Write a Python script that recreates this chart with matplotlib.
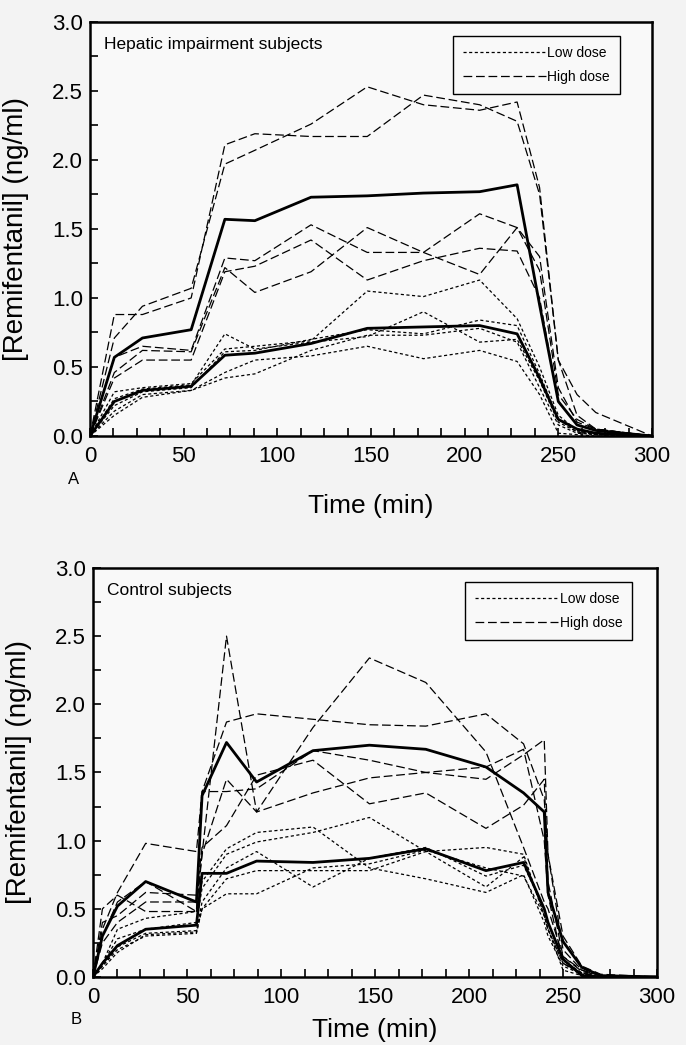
import matplotlib
matplotlib.use("Agg")
import matplotlib.pyplot as plt
from matplotlib.lines import Line2D
from matplotlib.ticker import MultipleLocator

plt.rcParams['font.family'] = ['Liberation Sans', 'DejaVu Sans']

# Panel A - hepatic impairment subjects
tA = [0, 13, 28, 54, 72, 88, 118, 148, 178, 208, 228, 240, 250, 260, 270, 300]
meanA_high = [0, 0.57, 0.71, 0.77, 1.57, 1.56, 1.73, 1.74, 1.76, 1.77, 1.82, 0.95, 0.25, 0.08, 0.04, 0]
meanA_low = [0, 0.25, 0.33, 0.36, 0.585, 0.60, 0.67, 0.78, 0.79, 0.80, 0.74, 0.42, 0.12, 0.05, 0.02, 0]
highA = [
    [0, 0.88, 0.88, 1.00, 2.11, 2.19, 2.17, 2.17, 2.47, 2.40, 2.28, 1.75, 0.55, 0.30, 0.17, 0],
    [0, 0.71, 0.94, 1.07, 1.97, 2.07, 2.26, 2.53, 2.40, 2.36, 2.42, 1.80, 0.55, 0.15, 0.05, 0],
    [0, 0.57, 0.65, 0.62, 1.29, 1.27, 1.53, 1.33, 1.33, 1.61, 1.51, 1.20, 0.30, 0.12, 0.05, 0],
    [0, 0.46, 0.62, 0.61, 1.22, 1.04, 1.19, 1.51, 1.33, 1.17, 1.51, 1.30, 0.35, 0.10, 0.05, 0],
    [0, 0.42, 0.55, 0.55, 1.19, 1.23, 1.42, 1.13, 1.27, 1.36, 1.34, 1.00, 0.25, 0.08, 0.04, 0],
]
lowA = [
    [0, 0.32, 0.35, 0.38, 0.63, 0.65, 0.69, 1.05, 1.01, 1.13, 0.85, 0.50, 0.15, 0.04, 0.01, 0],
    [0, 0.27, 0.34, 0.37, 0.74, 0.63, 0.68, 0.72, 0.90, 0.68, 0.70, 0.40, 0.10, 0.03, 0.01, 0],
    [0, 0.22, 0.32, 0.35, 0.61, 0.62, 0.70, 0.77, 0.74, 0.84, 0.80, 0.45, 0.12, 0.03, 0.01, 0],
    [0, 0.15, 0.28, 0.33, 0.46, 0.55, 0.58, 0.65, 0.56, 0.62, 0.54, 0.30, 0.02, 0.01, 0, 0],
    [0, 0.18, 0.30, 0.33, 0.42, 0.45, 0.62, 0.73, 0.73, 0.78, 0.68, 0.35, 0.08, 0.02, 0.01, 0],
]

# Panel B - control subjects
tB = [0, 5, 13, 28, 55, 58, 71, 87, 117, 147, 177, 209, 229, 240, 242, 250, 260, 270, 300]
meanB_high = [0, 0.30, 0.52, 0.70, 0.55, 1.33, 1.72, 1.43, 1.66, 1.70, 1.67, 1.54, 1.35, 1.21, 0.62, 0.26, 0.07, 0.01, 0]
meanB_low = [0, 0.10, 0.23, 0.35, 0.38, 0.76, 0.76, 0.85, 0.84, 0.87, 0.94, 0.78, 0.84, 0.50, 0.40, 0.13, 0.01, 0, 0]
highB = [
    [0, 0.30, 0.55, 0.70, 0.48, 0.90, 2.50, 1.21, 1.83, 2.34, 2.16, 1.65, 0.95, 0.55, 0.50, 0.15, 0.05, 0.01, 0],
    [0, 0.35, 0.62, 0.98, 0.92, 1.36, 1.87, 1.93, 1.89, 1.85, 1.84, 1.93, 1.71, 1.30, 0.90, 0.30, 0.08, 0.02, 0],
    [0, 0.50, 0.60, 0.48, 0.48, 1.36, 1.36, 1.38, 1.66, 1.59, 1.50, 1.45, 1.63, 1.74, 0.90, 0.20, 0.05, 0.01, 0],
    [0, 0.40, 0.45, 0.62, 0.60, 0.95, 1.11, 1.48, 1.59, 1.27, 1.35, 1.09, 1.26, 1.45, 0.70, 0.15, 0.04, 0.01, 0],
    [0, 0.25, 0.40, 0.55, 0.55, 0.90, 1.45, 1.21, 1.35, 1.46, 1.50, 1.54, 1.67, 1.00, 0.60, 0.10, 0.03, 0, 0],
]
lowB = [
    [0, 0.10, 0.35, 0.43, 0.48, 0.70, 0.94, 1.06, 1.10, 0.80, 0.72, 0.62, 0.75, 0.40, 0.30, 0.08, 0.02, 0, 0],
    [0, 0.10, 0.28, 0.35, 0.40, 0.65, 0.90, 0.99, 1.06, 1.17, 0.92, 0.95, 0.90, 0.45, 0.35, 0.10, 0.02, 0, 0],
    [0, 0.08, 0.22, 0.32, 0.34, 0.55, 0.80, 0.92, 0.66, 0.87, 0.95, 0.74, 0.82, 0.50, 0.40, 0.12, 0.03, 0, 0],
    [0, 0.08, 0.20, 0.30, 0.32, 0.50, 0.61, 0.61, 0.80, 0.83, 0.93, 0.80, 0.74, 0.45, 0.35, 0.05, 0.01, 0, 0],
    [0, 0.06, 0.18, 0.31, 0.33, 0.50, 0.72, 0.78, 0.78, 0.78, 0.92, 0.66, 0.88, 0.45, 0.35, 0.10, 0.02, 0, 0],
]

low_style = dict(color='black', lw=0.9, linestyle=(0, (2.5, 2)))
high_style = dict(color='black', lw=0.9, linestyle=(0, (7, 3)))
mean_style = dict(color='black', lw=2.0, linestyle='-')

fig = plt.figure(figsize=(6.86, 10.45), dpi=100, facecolor='#f3f3f3')
axA = fig.add_axes([0.1312, 0.5828, 0.8192, 0.3962])
axB = fig.add_axes([0.1356, 0.0651, 0.8222, 0.3914])


def draw_panel(ax, t, high, low, m_high, m_low, title, letter, leg_xy, xlab_y):
    ax.set_facecolor('#f9f9f9')
    for y in low:
        ax.plot(t, y, **low_style)
    for y in high:
        ax.plot(t, y, **high_style)
    ax.plot(t, m_high, **mean_style)
    ax.plot(t, m_low, **mean_style)

    ax.set_xlim(0, 300)
    ax.set_ylim(0, 3.0)
    ax.xaxis.set_major_locator(MultipleLocator(50))
    ax.xaxis.set_minor_locator(MultipleLocator(12.5))
    ax.yaxis.set_major_locator(MultipleLocator(0.5))
    ax.yaxis.set_minor_locator(MultipleLocator(0.25))
    ax.yaxis.set_major_formatter(plt.FormatStrFormatter('%.1f'))
    ax.tick_params(which='both', direction='in', length=6, width=1.2,
                   top=False, right=False)
    ax.tick_params(axis='x', which='major', labelsize=16, pad=7)
    ax.tick_params(axis='y', which='major', labelsize=16, pad=5)
    for s in ax.spines.values():
        s.set_linewidth(1.8)

    ax.set_xlabel('Time (min)', fontsize=19)
    ax.xaxis.set_label_coords(0.5, xlab_y)
    ax.set_ylabel('[Remifentanil] (ng/ml)', fontsize=20)
    ax.yaxis.set_label_coords(-0.108, 0.5)

    ax.text(0.025, 0.945, title, transform=ax.transAxes, fontsize=12.5,
            va='center', ha='left')
    ax.text(-0.03, -0.105, letter, transform=ax.transAxes, fontsize=12,
            va='center', ha='center')

    handles = [Line2D([], [], **low_style), Line2D([], [], **high_style)]
    leg = ax.legend(handles, ['Low dose', 'High dose'], loc='upper left',
                    bbox_to_anchor=leg_xy, fontsize=10, handlelength=6.0,
                    handletextpad=0.1, borderpad=0.7, labelspacing=0.75,
                    fancybox=False, framealpha=1, edgecolor='black',
                    borderaxespad=0)
    leg.get_frame().set_linewidth(1.0)
    leg.get_frame().set_facecolor('#f9f9f9')


draw_panel(axA, tA, highA, lowA, meanA_high, meanA_low,
           'Hepatic impairment subjects', 'A', (0.646, 0.966), -0.14)
draw_panel(axB, tB, highB, lowB, meanB_high, meanB_low,
           'Control subjects', 'B', (0.66, 0.966), -0.10)

fig.savefig('out.png', dpi=100, facecolor=fig.get_facecolor())
